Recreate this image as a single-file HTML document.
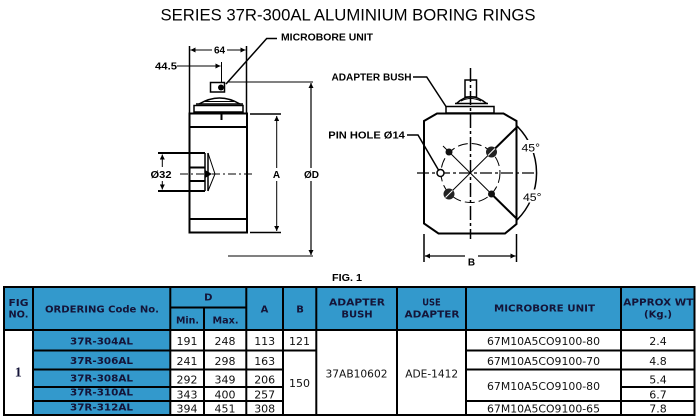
<!DOCTYPE html>
<html>
<head>
<meta charset="utf-8">
<style>
  html,body{margin:0;padding:0;background:#fff;}
  svg{display:block;}
  .lbl{font-family:"Liberation Sans",sans-serif;font-weight:bold;font-size:10px;fill:#000;}
  .th{font-family:"DejaVu Sans","Liberation Sans",sans-serif;font-weight:bold;font-size:10px;fill:#141438;}
  .td{font-family:"DejaVu Sans","Liberation Sans",sans-serif;font-size:11px;fill:#111;}
  .cd{font-family:"DejaVu Sans","Liberation Sans",sans-serif;font-weight:bold;font-size:10px;fill:#141438;}
</style>
</head>
<body>
<svg width="700" height="419" viewBox="0 0 700 419" xmlns="http://www.w3.org/2000/svg">
  <defs>
    <marker id="ar" viewBox="0 0 10 10" refX="10" refY="5" markerUnits="userSpaceOnUse" markerWidth="6" markerHeight="5" orient="auto-start-reverse">
      <path d="M0,0 L10,5 L0,10z" fill="#000"/>
    </marker>
  </defs>
  <rect width="700" height="419" fill="#fff"/>

  <!-- Title -->
  <text x="348" y="20.5" text-anchor="middle" font-family="Liberation Sans, sans-serif" font-size="16.6" textLength="375" lengthAdjust="spacingAndGlyphs" fill="#000">SERIES 37R-300AL ALUMINIUM BORING RINGS</text>

  <!-- ===== LEFT FIGURE ===== -->
  <g stroke="#000" fill="none">
    <!-- extension lines for 64 -->
    <line x1="189.5" y1="46" x2="189.5" y2="114" stroke-width="1.5"/>
    <line x1="246.5" y1="46" x2="246.5" y2="114" stroke-width="1.5"/>
    <!-- 64 dim -->
    <line x1="212" y1="50" x2="190.5" y2="50" stroke-width="1" marker-end="url(#ar)"/>
    <line x1="227" y1="50" x2="245.5" y2="50" stroke-width="1" marker-end="url(#ar)"/>
    <!-- 44.5 dim -->
    <line x1="177" y1="66" x2="220.5" y2="66" stroke-width="1" marker-end="url(#ar)"/>
    <line x1="221.5" y1="62" x2="221.5" y2="83" stroke-width="1"/>
    <!-- microbore leader -->
    <polyline points="226,84 266.7,38.5 277,38.5" stroke-width="1.5"/>
    <!-- microbore unit -->
    <rect x="210.5" y="82.5" width="14" height="9.5" stroke-width="1.5" fill="#fff"/>
    <path d="M199,104 Q219.5,92 240,104" stroke-width="1.5"/>
    <line x1="204" y1="101.5" x2="234" y2="101.5" stroke-width="1"/>
    <line x1="196" y1="104" x2="243" y2="104" stroke-width="1.5"/>
    <rect x="194" y="105.5" width="49" height="6.5" stroke-width="1.5"/>
    <!-- body -->
    <rect x="189.5" y="113.5" width="57.5" height="119" stroke-width="2"/>
    <line x1="189.5" y1="127" x2="247" y2="127" stroke-width="2"/>
    <line x1="189.5" y1="219" x2="247" y2="219" stroke-width="2"/>
    <line x1="221.5" y1="113" x2="221.5" y2="120" stroke-width="2"/>
    <!-- A dim -->
    <line x1="250" y1="114" x2="281" y2="114" stroke-width="1.5"/>
    <line x1="250" y1="232.5" x2="281" y2="232.5" stroke-width="1.5"/>
    <line x1="276.7" y1="168" x2="276.7" y2="116" stroke-width="1" marker-end="url(#ar)"/>
    <line x1="276.7" y1="181" x2="276.7" y2="231" stroke-width="1" marker-end="url(#ar)"/>
    <!-- OD dim -->
    <line x1="228" y1="82" x2="313" y2="82" stroke-width="1"/>
    <line x1="228" y1="256" x2="313" y2="256" stroke-width="1"/>
    <line x1="311" y1="168" x2="311" y2="83" stroke-width="1.2" marker-end="url(#ar)"/>
    <line x1="311" y1="181" x2="311" y2="255" stroke-width="1.2" marker-end="url(#ar)"/>
    <!-- O32 -->
    <line x1="158" y1="153" x2="205" y2="153" stroke-width="2"/>
    <line x1="158" y1="191" x2="205" y2="191" stroke-width="2"/>
    <line x1="162.3" y1="167" x2="162.3" y2="154.5" stroke-width="1" marker-end="url(#ar)"/>
    <line x1="162.3" y1="181" x2="162.3" y2="189.5" stroke-width="1" marker-end="url(#ar)"/>
    <line x1="189" y1="167.5" x2="205" y2="167.5" stroke-width="2"/>
    <line x1="189" y1="181" x2="205" y2="181" stroke-width="2"/>
    <line x1="205" y1="153" x2="205" y2="191" stroke-width="1.5"/>
    <line x1="208" y1="153" x2="208" y2="191" stroke-width="1.5"/>
    <path d="M208,153 L215,174 L208,191" stroke-width="1"/>
    <!-- centerline -->
    <line x1="180" y1="174" x2="255" y2="174" stroke-width="1" stroke-dasharray="8,3,2,3"/>
  </g>
  <circle cx="221" cy="87.5" r="3" fill="#000"/>
  <path d="M205,170 L212,174 L205,178z" fill="#000"/>

  <!-- left labels -->
  <text class="lbl" x="219.5" y="53.5" text-anchor="middle">64</text>
  <text class="lbl" x="155" y="69.5" textLength="22" lengthAdjust="spacingAndGlyphs">44.5</text>
  <text class="lbl" x="281" y="40.5" textLength="92" lengthAdjust="spacingAndGlyphs">MICROBORE UNIT</text>
  <text class="lbl" x="276.5" y="178" text-anchor="middle">A</text>
  <text class="lbl" x="311.5" y="178" text-anchor="middle" textLength="15" lengthAdjust="spacingAndGlyphs">ØD</text>
  <text class="lbl" x="150.5" y="178" textLength="21" lengthAdjust="spacingAndGlyphs">Ø32</text>

  <!-- ===== RIGHT FIGURE ===== -->
  <g stroke="#000" fill="none">
    <polygon points="437,113.5 503.5,113.5 516.5,121 516.5,224 505,233.5 438.5,233.5 424,223.5 424,121" stroke-width="2"/>
    <rect x="446" y="106.5" width="48" height="6.5" stroke-width="1.5" fill="#fff"/>
    <path d="M456.5,103.5 Q470.5,90 486.5,103.5" stroke-width="1.5"/>
    <line x1="455" y1="103.5" x2="488" y2="103.5" stroke-width="1.5"/>
    <path d="M461,101 Q470.5,96 481,101" stroke-width="1"/>
    <rect x="465" y="80" width="11.5" height="17" stroke-width="1.5"/>
    <!-- centerlines -->
    <line x1="470.5" y1="68" x2="470.5" y2="239" stroke-width="1.5" stroke-dasharray="14,3,3,3"/>
    <line x1="417" y1="173" x2="537" y2="173" stroke-width="1.2" stroke-dasharray="12,3,3,3"/>
    <!-- leaders -->
    <polyline points="413,77 426.7,77 446,106.5" stroke-width="1.5"/>
    <polyline points="407,135 418,135 438.5,170" stroke-width="1.5"/>
    <!-- bolt circle -->
    <circle cx="470.5" cy="173" r="29.5" stroke-width="1" stroke-dasharray="10,4"/>
    <!-- diagonals -->
    <line x1="518" y1="126" x2="491.5" y2="152" stroke-width="2"/>
    <line x1="491.5" y1="152" x2="449" y2="194" stroke-width="1"/>
    <line x1="443" y1="146" x2="491.5" y2="194" stroke-width="1"/>
    <line x1="491.5" y1="194" x2="518" y2="220" stroke-width="2"/>
    <!-- 45 arc -->
    <path d="M517.2,126.3 A66,66 0 0,1 517.2,219.7" stroke-width="1.5"/>
    <!-- B dim -->
    <line x1="424" y1="234" x2="424" y2="262" stroke-width="1.5"/>
    <line x1="516.5" y1="234" x2="516.5" y2="262" stroke-width="1.5"/>
    <line x1="465" y1="256" x2="425" y2="256" stroke-width="1.2" marker-end="url(#ar)"/>
    <line x1="478" y1="256" x2="515.5" y2="256" stroke-width="1.2" marker-end="url(#ar)"/>
  </g>
  <!-- holes -->
  <circle cx="491.5" cy="152" r="5.5" fill="#222"/>
  <line x1="488" y1="155.5" x2="495" y2="148.5" stroke="#fff" stroke-width="1"/>
  <circle cx="449" cy="194" r="5.5" fill="#222"/>
  <line x1="445.5" y1="197.5" x2="452.5" y2="190.5" stroke="#fff" stroke-width="1"/>
  <circle cx="449" cy="152" r="3.5" fill="#111"/>
  <circle cx="491.5" cy="194" r="3.5" fill="#111"/>
  <circle cx="440.5" cy="173" r="3.5" fill="#fff" stroke="#000" stroke-width="1.5"/>

  <!-- right labels -->
  <text class="lbl" x="331.5" y="80.5" textLength="80" lengthAdjust="spacingAndGlyphs">ADAPTER BUSH</text>
  <text class="lbl" x="328.3" y="138.5" textLength="76.5" lengthAdjust="spacingAndGlyphs">PIN HOLE Ø14</text>
  <rect x="520.5" y="140" width="20" height="13" fill="#fff"/>
  <text x="521.5" y="151.5" font-family="Liberation Sans, sans-serif" font-size="11" textLength="18.5" lengthAdjust="spacingAndGlyphs" fill="#000">45°</text>
  <rect x="522" y="189.5" width="20" height="13" fill="#fff"/>
  <text x="523" y="201" font-family="Liberation Sans, sans-serif" font-size="11" textLength="18.5" lengthAdjust="spacingAndGlyphs" fill="#000">45°</text>
  <text class="lbl" x="471.5" y="265.5" text-anchor="middle">B</text>

  <!-- FIG. 1 -->
  <text class="lbl" x="332" y="281" textLength="30" lengthAdjust="spacingAndGlyphs">FIG. 1</text>

  <!-- ===== TABLE ===== -->
  <rect x="4" y="287" width="690.5" height="43" fill="#3399cc"/>
  <rect x="33" y="330" width="137" height="85" fill="#3399cc"/>
  <g stroke="#000" stroke-width="2">
    <!-- horizontals -->
    <line x1="3" y1="287" x2="695.5" y2="287"/>
    <line x1="170" y1="307.5" x2="246.3" y2="307.5"/>
    <line x1="3" y1="330" x2="695.5" y2="330"/>
    <line x1="33" y1="350.5" x2="316.3" y2="350.5"/>
    <line x1="466" y1="350.5" x2="695.5" y2="350.5"/>
    <line x1="33" y1="369.5" x2="283" y2="369.5"/>
    <line x1="466" y1="369.5" x2="695.5" y2="369.5"/>
    <line x1="33" y1="387" x2="283" y2="387"/>
    <line x1="621" y1="387" x2="695.5" y2="387"/>
    <line x1="33" y1="401" x2="283" y2="401"/>
    <line x1="466" y1="401" x2="695.5" y2="401"/>
    <line x1="3" y1="415" x2="695.5" y2="415"/>
    <!-- verticals -->
    <line x1="4" y1="286" x2="4" y2="416"/>
    <line x1="33" y1="286" x2="33" y2="416"/>
    <line x1="170.3" y1="286" x2="170.3" y2="416"/>
    <line x1="204" y1="307.5" x2="204" y2="416"/>
    <line x1="246.3" y1="286" x2="246.3" y2="416"/>
    <line x1="283" y1="286" x2="283" y2="416"/>
    <line x1="316.3" y1="286" x2="316.3" y2="416"/>
    <line x1="397" y1="286" x2="397" y2="416"/>
    <line x1="466" y1="286" x2="466" y2="416"/>
    <line x1="621" y1="286" x2="621" y2="416"/>
    <line x1="694.5" y1="286" x2="694.5" y2="416"/>
  </g>

  <!-- header text -->
  <text class="th" x="18.5" y="306" text-anchor="middle" textLength="20" lengthAdjust="spacingAndGlyphs">FIG</text>
  <text class="th" x="18.5" y="317.3" text-anchor="middle" textLength="20" lengthAdjust="spacingAndGlyphs">NO.</text>
  <text class="th" x="102" y="312.7" text-anchor="middle" textLength="114" lengthAdjust="spacingAndGlyphs">ORDERING Code No.</text>
  <text class="th" x="208.3" y="300.5" text-anchor="middle">D</text>
  <text class="th" x="187.5" y="323.3" text-anchor="middle" textLength="23" lengthAdjust="spacingAndGlyphs">Min.</text>
  <text class="th" x="225.5" y="323.3" text-anchor="middle" textLength="26" lengthAdjust="spacingAndGlyphs">Max.</text>
  <text class="th" x="264.5" y="312.5" text-anchor="middle">A</text>
  <text class="th" x="300" y="312.5" text-anchor="middle">B</text>
  <text class="th" x="357" y="305.7" text-anchor="middle" textLength="56" lengthAdjust="spacingAndGlyphs">ADAPTER</text>
  <text class="th" x="357" y="317.7" text-anchor="middle">BUSH</text>
  <text class="th" x="431.5" y="305.7" text-anchor="middle" textLength="18.5" lengthAdjust="spacingAndGlyphs">USE</text>
  <text class="th" x="432" y="317.7" text-anchor="middle" textLength="55" lengthAdjust="spacingAndGlyphs">ADAPTER</text>
  <text class="th" x="544.5" y="311.7" text-anchor="middle" textLength="101" lengthAdjust="spacingAndGlyphs">MICROBORE UNIT</text>
  <text class="th" x="658.3" y="305.7" text-anchor="middle" textLength="70" lengthAdjust="spacingAndGlyphs">APPROX WT</text>
  <text class="th" x="658" y="317.5" text-anchor="middle" textLength="28" lengthAdjust="spacingAndGlyphs">(Kg.)</text>

  <!-- FIG no -->
  <text x="18.3" y="376.7" text-anchor="middle" font-family="Liberation Serif, serif" font-weight="bold" font-size="14" fill="#141438">1</text>

  <!-- codes -->
  <text class="cd" x="101.5" y="344.3" text-anchor="middle" textLength="63" lengthAdjust="spacingAndGlyphs">37R-304AL</text>
  <text class="cd" x="101.5" y="364" text-anchor="middle" textLength="63" lengthAdjust="spacingAndGlyphs">37R-306AL</text>
  <text class="cd" x="101.5" y="381.7" text-anchor="middle" textLength="63" lengthAdjust="spacingAndGlyphs">37R-308AL</text>
  <text class="cd" x="101.5" y="395.7" text-anchor="middle" textLength="63" lengthAdjust="spacingAndGlyphs">37R-310AL</text>
  <text class="cd" x="101.5" y="410.7" text-anchor="middle" textLength="63" lengthAdjust="spacingAndGlyphs">37R-312AL</text>

  <!-- Min -->
  <text class="td" x="187" y="345" text-anchor="middle">191</text>
  <text class="td" x="187" y="365" text-anchor="middle">241</text>
  <text class="td" x="187" y="383.3" text-anchor="middle">292</text>
  <text class="td" x="187" y="398.3" text-anchor="middle">343</text>
  <text class="td" x="187" y="412.7" text-anchor="middle">394</text>
  <!-- Max -->
  <text class="td" x="225" y="345" text-anchor="middle">248</text>
  <text class="td" x="225" y="365" text-anchor="middle">298</text>
  <text class="td" x="225" y="383.3" text-anchor="middle">349</text>
  <text class="td" x="225" y="398.3" text-anchor="middle">400</text>
  <text class="td" x="225" y="412.7" text-anchor="middle">451</text>
  <!-- A -->
  <text class="td" x="264.7" y="345" text-anchor="middle">113</text>
  <text class="td" x="264.7" y="365" text-anchor="middle">163</text>
  <text class="td" x="264.7" y="383.3" text-anchor="middle">206</text>
  <text class="td" x="264.7" y="398.3" text-anchor="middle">257</text>
  <text class="td" x="264.7" y="412.7" text-anchor="middle">308</text>
  <!-- B -->
  <text class="td" x="299.5" y="345" text-anchor="middle">121</text>
  <text class="td" x="299.5" y="387" text-anchor="middle">150</text>
  <!-- adapter bush / use adapter -->
  <text class="td" x="356.5" y="377.3" text-anchor="middle" textLength="62" lengthAdjust="spacingAndGlyphs">37AB10602</text>
  <text class="td" x="431.7" y="377.3" text-anchor="middle" textLength="53" lengthAdjust="spacingAndGlyphs">ADE-1412</text>
  <!-- microbore -->
  <text class="td" x="543.5" y="345" text-anchor="middle" textLength="113" lengthAdjust="spacingAndGlyphs">67M10A5CO9100-80</text>
  <text class="td" x="543.5" y="365" text-anchor="middle" textLength="113" lengthAdjust="spacingAndGlyphs">67M10A5CO9100-70</text>
  <text class="td" x="543.5" y="390" text-anchor="middle" textLength="113" lengthAdjust="spacingAndGlyphs">67M10A5CO9100-80</text>
  <text class="td" x="543.5" y="412.3" text-anchor="middle" textLength="113" lengthAdjust="spacingAndGlyphs">67M10A5CO9100-65</text>
  <!-- weight -->
  <text class="td" x="658" y="345" text-anchor="middle">2.4</text>
  <text class="td" x="658" y="365" text-anchor="middle">4.8</text>
  <text class="td" x="658" y="383.3" text-anchor="middle">5.4</text>
  <text class="td" x="658" y="398.3" text-anchor="middle">6.7</text>
  <text class="td" x="658" y="412.3" text-anchor="middle">7.8</text>
</svg>
</body>
</html>
